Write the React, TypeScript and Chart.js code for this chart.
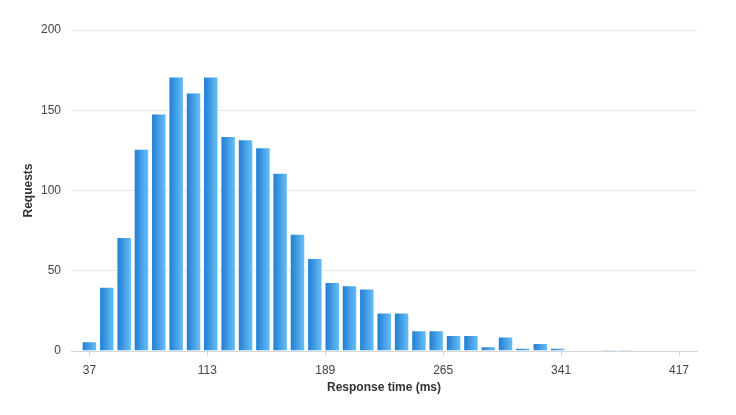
import React, { useEffect, useRef } from "react";
import { Chart, registerables } from "chart.js";

Chart.register(...registerables);

// Bin centers (ms) and request counts per bin
const BIN_CENTERS = [
  37, 48.2, 59.4, 70.5, 81.7, 92.9, 104.1, 115.2, 126.4, 137.6, 148.8, 159.9,
  171.1, 182.3, 193.5, 204.6, 215.8, 227, 238.2, 249.4, 260.5, 271.7, 282.9,
  294.1, 305.2, 316.4, 327.6, 338.8, 349.9, 361.1, 372.3, 383.5, 394.6, 405.8, 417,
];
const REQUESTS = [
  6, 40, 71, 126, 148, 171, 161, 171, 134, 132, 127, 111, 73, 58, 43, 41, 39,
  24, 24, 13, 13, 10, 10, 3, 9, 2, 5, 2, 0, 0, 1, 1, 0, 0.4, 0,
];
const X_TICKS = [37, 113, 189, 265, 341, 417];
const Y_TICKS = [0, 50, 100, 150, 200];

const FONT = "'Liberation Sans', Arial, Helvetica, sans-serif";

export default function App() {
  const ref = useRef<HTMLCanvasElement | null>(null);

  useEffect(() => {
    if (!ref.current) return;
    const step = BIN_CENTERS[1] - BIN_CENTERS[0];

    const gradient = (c: any) => {
      const chart = c.chart;
      const xs = chart.scales && chart.scales.x;
      if (!chart.chartArea || !xs || c.dataIndex == null) return "#3a93de";
      const xv = BIN_CENTERS[c.dataIndex];
      const cx = xs.getPixelForValue(xv);
      const half = Math.abs(xs.getPixelForValue(xv + step / 2) - cx) * 0.9;
      const g = chart.ctx.createLinearGradient(cx - half, 0, cx + half, 0);
      g.addColorStop(0, "#1b79d1");
      g.addColorStop(1, "#6dc3f8");
      return g;
    };

    const chart = new Chart(ref.current, {
      type: "bar",
      data: {
        datasets: [
          {
            data: BIN_CENTERS.map((x, i) => ({ x, y: REQUESTS[i] })),
            backgroundColor: gradient,
            borderColor: "rgba(255,255,255,0.55)",
            borderWidth: 1,
            categoryPercentage: 1,
            barPercentage: 0.9,
          },
        ],
      },
      options: {
        responsive: false,
        animation: false,
        layout: { padding: { left: 17, right: 39, top: 30, bottom: 16 } },
        plugins: { legend: { display: false }, tooltip: { enabled: false } },
        scales: {
          x: {
            type: "linear",
            offset: false,
            min: 25.1,
            max: 428.6,
            afterBuildTicks: (s: any) => {
              s.ticks = X_TICKS.map((v) => ({ value: v }));
            },
            afterFit: (s: any) => {
              s.height = 48;
            },
            grid: {
              offset: false,
              drawOnChartArea: false,
              drawTicks: true,
              tickLength: 5,
              color: "#d6d6d6",
            },
            border: { display: true, color: "#d6d6d6" },
            ticks: {
              padding: 7,
              color: "#444",
              font: { family: FONT, size: 12 },
              maxRotation: 0,
              autoSkip: false,
            },
            title: {
              display: true,
              text: "Response time (ms)",
              color: "#333",
              font: { family: FONT, size: 12, weight: "bold" },
              padding: { top: 4, bottom: 4 },
            },
          },
          y: {
            min: 0,
            max: 200,
            afterBuildTicks: (s: any) => {
              s.ticks = Y_TICKS.map((v) => ({ value: v }));
            },
            afterFit: (s: any) => {
              s.width = 54;
            },
            grid: { drawTicks: false, color: "#e6e6e6" },
            border: { display: false },
            ticks: {
              padding: 10,
              color: "#444",
              font: { family: FONT, size: 12 },
            },
            title: {
              display: true,
              text: "Requests",
              color: "#333",
              font: { family: FONT, size: 12, weight: "bold" },
              padding: { top: 4, bottom: 4 },
            },
          },
        },
      },
    } as any);

    return () => chart.destroy();
  }, []);

  return (
    <div style={{ position: "absolute", left: 0, top: 0, width: 736, height: 415, background: "#fff" }}>
      <canvas ref={ref} width={736} height={415} style={{ display: "block", width: 736, height: 415 }} />
    </div>
  );
}
